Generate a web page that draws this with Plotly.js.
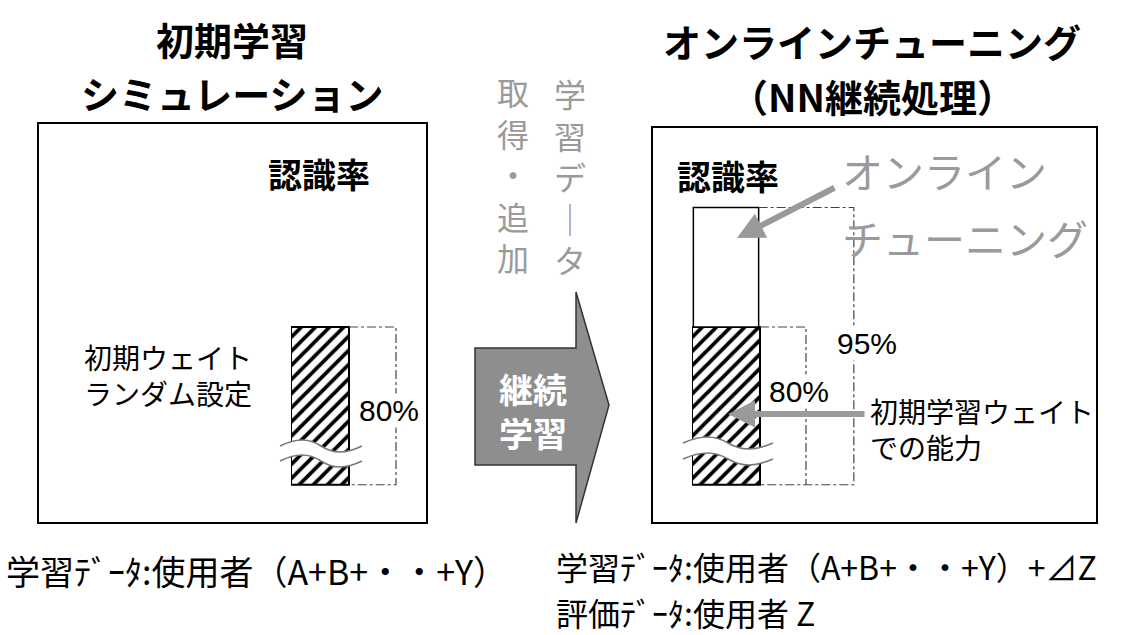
<!DOCTYPE html>
<html><head><meta charset="utf-8">
<script src="https://cdn.plot.ly/plotly-3.0.1.min.js"></script>
<style>html,body{margin:0;padding:0;background:#fff}#c{width:1148px;height:635px}</style>
</head><body><div id="c"></div>
<script>
// ---- data ----
const panels = ['初期学習シミュレーション', 'オンラインチューニング'];
const initialRate = [80];      // 初期学習ウェイトでの認識率 (%)
const tunedRate = [95];        // オンラインチューニング後の認識率 (%)
const rateLabels = ['80%', '95%'];
const axisFloor = 60.2;        // 波線で省略した軸の下端 (%)
const colA = ['取', '得', '・', '追', '加'];
const colB = ['学', '習', 'デ', '｜', 'タ'];

const W = 1148, H = 635;
const FONT = '"Noto Sans CJK JP", "Noto Sans", sans-serif';
const GRAY = '#9a9a9a';
const py = p => 1 - p / H;      // pixel y -> paper
const px = p => p / W;          // pixel x -> paper

// y scale for bar panels: 80% at y=327px, 95% at 207.5px
const ppp = (327 - 207.5) / 15;
const yLo = 59.8, yHi = 100;
const yDom = [py(327 + (80 - yLo) * ppp), py(327 - (yHi - 80) * ppp)];

const hatch = {shape: '/', fgcolor: 'black', bgcolor: 'white', size: 10, solidity: 0.38};

const traces = [
  {type: 'scatter', x: [0], y: [0], mode: 'markers', marker: {opacity: 0}, hoverinfo: 'skip', xaxis: 'x', yaxis: 'y'},
  // left panel: initial-weight bar
  {type: 'bar', x: [0.5], y: [initialRate[0] - axisFloor], base: [axisFloor], width: [1], xaxis: 'x2', yaxis: 'y2',
   marker: {color: 'white', pattern: hatch, line: {color: 'black', width: 2}}, hoverinfo: 'skip'},
  {type: 'scatter', mode: 'lines', x: [1, 1.81, 1.81, 1], y: [initialRate[0], initialRate[0], axisFloor, axisFloor],
   xaxis: 'x2', yaxis: 'y2', line: {color: '#444', width: 1.2, dash: 'dashdot'}, hoverinfo: 'skip', cliponaxis: false},
  // right panel
  {type: 'bar', x: [0.5], y: [initialRate[0] - axisFloor], base: [axisFloor], width: [1], xaxis: 'x3', yaxis: 'y3',
   marker: {color: 'white', pattern: hatch, line: {color: 'black', width: 2}}, hoverinfo: 'skip'},
  {type: 'bar', x: [0.5], y: [tunedRate[0] - initialRate[0]], base: [initialRate[0]], width: [0.96], xaxis: 'x3', yaxis: 'y3',
   marker: {color: 'white', line: {color: 'black', width: 1.5}}, hoverinfo: 'skip'},
  {type: 'scatter', mode: 'lines', x: [1, 1.676, 1.676], y: [initialRate[0], initialRate[0], axisFloor],
   xaxis: 'x3', yaxis: 'y3', line: {color: '#444', width: 1.2, dash: 'dashdot'}, hoverinfo: 'skip', cliponaxis: false},
  {type: 'scatter', mode: 'lines', x: [0.98, 2.38, 2.38, 1], y: [tunedRate[0], tunedRate[0], axisFloor, axisFloor],
   xaxis: 'x3', yaxis: 'y3', line: {color: '#444', width: 1.2, dash: 'dashdot'}, hoverinfo: 'skip', cliponaxis: false}
];

function wavePts(x0, x1, y, a) {
  const w = x1 - x0, m = x0 + w / 2;
  return {f: `M${x0},${y} C${x0 + w * 0.2},${y - 2 * a} ${m - w * 0.15},${y - 2 * a} ${m},${y} C${m + w * 0.15},${y + 2 * a} ${x1 - w * 0.2},${y + 2 * a} ${x1},${y}`,
          b: `C${x1 - w * 0.2},${y + 2 * a} ${m + w * 0.15},${y + 2 * a} ${m},${y} C${m - w * 0.15},${y - 2 * a} ${x0 + w * 0.2},${y - 2 * a} ${x0},${y}`};
}
function breakShapes(x0, x1, y1, y2) {
  const u = wavePts(x0, x1, y1, 4), l = wavePts(x0, x1, y2, 4);
  return [
    {type: 'path', xref: 'x', yref: 'y', path: u.f + ` L${x1},${y2} ` + l.b + ' Z', fillcolor: 'white', line: {width: 0}, layer: 'above'},
    {type: 'path', xref: 'x', yref: 'y', path: u.f, line: {color: '#777', width: 1.6}, layer: 'above'},
    {type: 'path', xref: 'x', yref: 'y', path: l.f, line: {color: '#777', width: 1.6}, layer: 'above'}
  ];
}

const shapes = [
  {type: 'rect', xref: 'x', yref: 'y', x0: 38, x1: 427, y0: 123, y1: 523, line: {color: 'black', width: 2}, layer: 'below'},
  {type: 'rect', xref: 'x', yref: 'y', x0: 652, x1: 1097, y0: 127, y1: 523, line: {color: 'black', width: 2}, layer: 'below'},
  // big block arrow
  {type: 'path', xref: 'x', yref: 'y', path: 'M475,348 L576,348 L576,292 L609,405 L576,523 L576,465 L475,465 Z',
   fillcolor: '#8e8e8e', line: {color: '#333', width: 1.5}, layer: 'below'},
  ...breakShapes(280, 362, 446, 461),
  ...breakShapes(683, 773, 443, 459)
];

function txt(t, x, y, size, opt) {
  return Object.assign({text: t, x: x, y: y, xref: 'x', yref: 'y', showarrow: false,
    font: {family: FONT, size: size, color: 'black'}, xanchor: 'center', yanchor: 'middle'}, opt || {});
}
const pctFont = {family: 'Liberation Sans, Arial', size: 30, color: 'black'};
const ann = [
  txt('<b>初期学習</b>', 232, 38, 38),
  txt('<b>シミュレーション</b>', 232, 92, 38),
  txt('<b>オンラインチューニング</b>', 872, 40, 38),
  txt('<b>（NN継続処理）</b>', 872, 95, 38),
  txt('<b>認識率</b>', 319, 173, 34),
  txt('<b>認識率</b>', 728, 175, 34),
  txt('初期ウェイト<br>ランダム設定', 168, 375, 28),
  txt(rateLabels[0], 389, 410, 30, {font: pctFont, bgcolor: 'white', borderpad: 0}),
  txt(rateLabels[0], 799, 391, 30, {font: pctFont, bgcolor: 'white', borderpad: 0}),
  txt(rateLabels[1], 867, 343, 30, {font: pctFont, bgcolor: 'white', borderpad: 0}),
  txt('初期学習ウェイト<br>での能力', 868, 429, 28, {xanchor: 'left', align: 'left'}),
  txt('オンライン', 840, 170, 41, {xanchor: 'left', font: {family: FONT, size: 41, color: GRAY}}),
  txt('チューニング', 840, 237, 41, {xanchor: 'left', font: {family: FONT, size: 41, color: GRAY}}),
  txt('<b>継続<br>学習</b>', 533, 410, 34, {font: {family: FONT, size: 34, color: 'white'}}),
  txt(colA.join('<br>'), 513, 174, 32, {font: {family: FONT, size: 32, color: GRAY}}),
  txt(colB.join('<br>'), 570, 176, 32, {font: {family: FONT, size: 32, color: GRAY}}),
  txt('学習ﾃﾞｰﾀ:使用者（A+B+・・+Y）', 4, 570, 34, {xanchor: 'left'}),
  txt('学習ﾃﾞｰﾀ:使用者（A+B+・・+Y）+⊿Z', 554, 566, 32, {xanchor: 'left'}),
  txt('評価ﾃﾞｰﾀ:使用者 Z', 554, 612, 32, {xanchor: 'left'}),
  // gray arrows
  {x: 737, y: 238, ax: 836, ay: 187, xref: 'x', yref: 'y', axref: 'x', ayref: 'y', text: '', showarrow: true,
   arrowhead: 2, arrowsize: 0.9, arrowwidth: 6, arrowcolor: GRAY},
  {x: 728, y: 414, ax: 866, ay: 414, xref: 'x', yref: 'y', axref: 'x', ayref: 'y', text: '', showarrow: true,
   arrowhead: 2, arrowsize: 0.9, arrowwidth: 6, arrowcolor: GRAY}
];

const hid = {visible: false, fixedrange: true};
const layout = {
  width: W, height: H, margin: {l: 0, r: 0, t: 0, b: 0}, paper_bgcolor: 'white', plot_bgcolor: 'rgba(0,0,0,0)',
  showlegend: false, barmode: 'overlay',
  xaxis: Object.assign({range: [0, W], domain: [0, 1], anchor: 'y'}, hid),
  yaxis: Object.assign({range: [H, 0], domain: [0, 1], anchor: 'x'}, hid),
  xaxis2: Object.assign({range: [0, 2], domain: [px(291), px(407)], anchor: 'y2'}, hid),
  yaxis2: Object.assign({range: [yLo, yHi], domain: yDom, anchor: 'x2'}, hid),
  xaxis3: Object.assign({range: [0, 3], domain: [px(692), px(896)], anchor: 'y3'}, hid),
  yaxis3: Object.assign({range: [yLo, yHi], domain: yDom, anchor: 'x3'}, hid),
  shapes: shapes, annotations: ann
};
Plotly.newPlot('c', traces, layout, {staticPlot: true, displayModeBar: false});
</script></body></html>
